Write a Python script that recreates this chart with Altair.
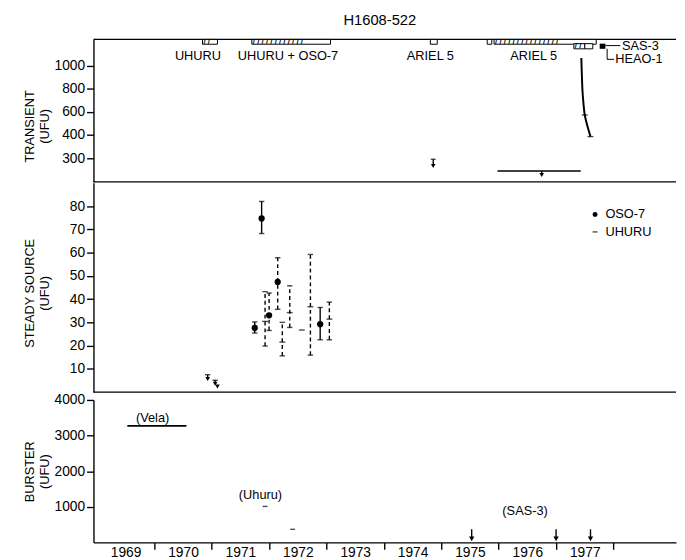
import altair as alt
import pandas as pd

# ---------------- data ----------------
# Transient panel: instrument coverage boxes along the top edge
box_x0 = [1970.84, 1971.70, 1974.81, 1975.80, 1975.92, 1977.31, 1977.50]
box_x1 = [1971.10, 1973.07, 1974.93, 1975.88, 1977.70, 1977.50, 1977.64]
box_top = [1232, 1232, 1232, 1232, 1232, 1195, 1195]
box_bot = [1190, 1190, 1190, 1190, 1190, 1150, 1150]
box_hatch = ["/  /", "/  " * 12, "", "", "/  " * 15, "/  /", ""]
blk_x0, blk_x1, blk_top, blk_bot = [1977.76], [1977.86], [1195], [1150]

tr_lab_x = [1970.76, 1972.33, 1974.81, 1976.61]
tr_lab_y = [1087, 1087, 1087, 1087]
tr_lab_t = ["UHURU", "UHURU + OSO-7", "ARIEL 5", "ARIEL 5"]
side_lab_x = [1978.15, 1978.03]
side_lab_y = [1178, 1058]
side_lab_t = ["SAS-3", "HEAO-1"]
lead_x0 = [1977.86, 1977.89, 1977.89]
lead_x1 = [1978.12, 1977.89, 1978.01]
lead_y0 = [1178, 1150, 1058]
lead_y1 = [1178, 1058, 1058]

# 1977 transient outburst decay curve
curve_x = [1977.44, 1977.45, 1977.46, 1977.48, 1977.50, 1977.54, 1977.60]
curve_y = [1070, 915, 786, 658, 572, 486, 392]
curve_tick_x = [1977.50, 1977.60]
curve_tick_y = [572, 392]

# transient upper limits
tlim_x = [1974.86, 1976.75]
tlim_top = [296, 246]
tlim_tip = [267, 229]
tbar_x0, tbar_x1, tbar_y = [1975.98], [1977.43], [246]

# Steady source: OSO-7
oso_x = [1971.75, 1971.87, 1972.00, 1972.15, 1972.89]
oso_y = [27.6, 74.7, 33.0, 47.4, 29.2]
oso_lo = [25.4, 68.2, 26.5, 35.6, 22.5]
oso_hi = [30.2, 82.0, 42.6, 57.8, 36.4]
oso_dash = [False, False, True, True, False]
# Steady source: UHURU
uh_x = [1971.93, 1972.23, 1972.36, 1972.57, 1972.72, 1973.05]
uh_y = [30.4, 21.5, 34.2, 26.7, 36.7, 31.4]
uh_lo = [19.8, 15.6, 27.8, None, 15.9, 22.5]
uh_hi = [43.2, 30.0, 45.7, None, 59.2, 38.7]
# small early UHURU points
sm_x = [1970.93, 1971.06, 1971.10]
sm_y = [5.6, 3.6, 2.4]
sm_hi = [7.5, 5.1, None]
# legend
leg_sym_x = [1977.68, 1977.68]
leg_txt_x = [1977.86, 1977.86]
leg_y = [76.4, 68.9]
leg_t = ["OSO-7", "UHURU"]

# Burster
vela_x0, vela_x1, vela_y = [1969.53], [1970.56], [3270]
bd_x = [1971.93, 1972.41]
bd_y = [1010, 367]
barr_x = [1975.53, 1977.00, 1977.60]
barr_top = [367, 367, 367]
barr_tip = [100, 100, 100]
bl_x = [1969.97, 1971.85, 1976.46]
bl_y = [3495, 1333, 874]
bl_t = ["(Vela)", "(Uhuru)", "(SAS-3)"]

# year label positions (centre of each year); ticks sit at year boundaries
year_mid = [1969.5, 1970.5, 1971.5, 1972.5, 1973.5, 1974.5, 1975.5, 1976.5, 1977.5]

# ---------------- styling ----------------
FONT = "Liberation Sans"
XDOM = [1968.94, 1979.09]
W, H1, H2, H3 = 593, 145, 213, 145
LW = 1.4
DASH = "M-1,0L1,0"
HALF_YEAR_PX = 0.5 * W / (XDOM[1] - XDOM[0])

xscale = alt.Scale(domain=XDOM, nice=False, zero=False)


def yaxis(title, values, title_y=None):
    kw = dict(title=title, values=values, tickSize=7, labelFontSize=14, labelPadding=2,
              titleFontSize=13, titleFontWeight="normal", titlePadding=6,
              minExtent=37, maxExtent=37, domainWidth=LW, tickWidth=LW,
              labelOverlap=False, labelFlush=False, grid=False, format="d")
    if title_y is not None:
        kw["titleY"] = title_y
    return alt.Axis(**kw)


xaxis_bottom = alt.Axis(values=year_mid, labelExpr="format(floor(datum.value), 'd')",
                        tickOffset=HALF_YEAR_PX, labelOffset=-HALF_YEAR_PX,
                        tickSize=7, labelPadding=-4, labelFontSize=14, domainWidth=LW,
                        tickWidth=LW, title=None, labelFlush=False, labelOverlap=False,
                        grid=False)


def hline(ypix):
    return alt.Chart(pd.DataFrame({"a": [0]})).mark_rule(color="black", strokeWidth=LW).encode(
        x=alt.value(0), x2=alt.value(W), y=alt.value(ypix))


# ---------------- transient panel ----------------
ys1 = alt.Scale(domain=[200, 400, 1232], range=[H1, 97, 0], zero=False, nice=False)
ya1 = yaxis(["TRANSIENT", "(UFU)"], [300, 400, 600, 800, 1000], 88)


def X1(f):
    return alt.X(f"{f}:Q", scale=xscale, axis=None)


def Y1(f):
    return alt.Y(f"{f}:Q", scale=ys1, axis=ya1)


boxes = pd.DataFrame({"x0": box_x0, "x1": box_x1, "top": box_top, "bot": box_bot, "h": box_hatch})
boxes["mid"] = (boxes["top"] + boxes["bot"]) / 2
blk = pd.DataFrame({"x0": blk_x0, "x1": blk_x1, "top": blk_top, "bot": blk_bot})
trl = pd.DataFrame({"x": tr_lab_x, "y": tr_lab_y, "t": tr_lab_t})
sdl = pd.DataFrame({"x": side_lab_x, "y": side_lab_y, "t": side_lab_t})
lead = pd.DataFrame({"x0": lead_x0, "x1": lead_x1, "y0": lead_y0, "y1": lead_y1})
curve = pd.DataFrame({"x": curve_x, "y": curve_y, "o": list(range(len(curve_x)))})
ctick = pd.DataFrame({"x": curve_tick_x, "y": curve_tick_y})
tlim = pd.DataFrame({"x": tlim_x, "top": tlim_top, "tip": tlim_tip})
tbar = pd.DataFrame({"x0": tbar_x0, "x1": tbar_x1, "y": tbar_y})

top = alt.layer(
    hline(0), hline(H1),
    alt.Chart(boxes).mark_rect(fill="white", stroke="black", strokeWidth=1).encode(
        x=X1("x0"), x2="x1:Q", y=Y1("top"), y2="bot:Q"),
    alt.Chart(boxes).mark_text(align="left", baseline="middle", fontSize=8, fontWeight="bold",
                               dx=1, clip=True, color="black").encode(
        x=X1("x0"), y=Y1("mid"), text="h:N"),
    alt.Chart(blk).mark_rect(fill="black").encode(x=X1("x0"), x2="x1:Q", y=Y1("top"), y2="bot:Q"),
    alt.Chart(trl).mark_text(fontSize=13, baseline="middle").encode(x=X1("x"), y=Y1("y"), text="t:N"),
    alt.Chart(sdl).mark_text(fontSize=13, align="left", baseline="middle").encode(
        x=X1("x"), y=Y1("y"), text="t:N"),
    alt.Chart(lead).mark_rule(color="black", strokeWidth=1).encode(
        x=X1("x0"), x2="x1:Q", y=Y1("y0"), y2="y1:Q"),
    alt.Chart(curve).mark_line(color="black", strokeWidth=2, interpolate="cardinal").encode(
        x=X1("x"), y=Y1("y"), order="o:Q"),
    alt.Chart(ctick).mark_point(shape=DASH, size=36, strokeWidth=LW, color="black").encode(
        x=X1("x"), y=Y1("y")),
    alt.Chart(tlim).mark_rule(color="black", strokeWidth=LW).encode(x=X1("x"), y=Y1("top"), y2="tip:Q"),
    alt.Chart(tlim).mark_point(shape="triangle-down", filled=True, size=22, color="black", opacity=1).encode(
        x=X1("x"), y=Y1("tip")),
    alt.Chart(tlim.iloc[:1]).mark_point(shape=DASH, size=25, strokeWidth=LW, color="black").encode(
        x=X1("x"), y=Y1("top")),
    alt.Chart(tbar).mark_rule(color="black", strokeWidth=LW).encode(x=X1("x0"), x2="x1:Q", y=Y1("y")),
).properties(width=W, height=H1,
             title=alt.TitleParams("H1608-522", fontSize=15, fontWeight="normal", font=FONT,
                                   offset=11, frame="group", anchor="middle", dx=-5))

# ---------------- steady panel ----------------
ys2 = alt.Scale(domain=[0, 90], zero=False, nice=False)
ya2 = yaxis(["STEADY SOURCE", "(UFU)"], [10, 20, 30, 40, 50, 60, 70, 80], 112)


def Y2(f):
    return alt.Y(f"{f}:Q", scale=ys2, axis=ya2)


oso = pd.DataFrame({"x": oso_x, "y": oso_y, "lo": oso_lo, "hi": oso_hi, "d": oso_dash})
uh = pd.DataFrame({"x": uh_x, "y": uh_y, "lo": uh_lo, "hi": uh_hi}).dropna()
uh_all = pd.DataFrame({"x": uh_x, "y": uh_y})
sm = pd.DataFrame({"x": sm_x, "y": sm_y, "hi": sm_hi})
sm_e = sm.dropna()
errs = pd.concat([oso[["x", "lo", "hi", "d"]],
                  uh.assign(d=True)[["x", "lo", "hi", "d"]]], ignore_index=True)
caps = pd.concat([errs[["x", "lo"]].rename(columns={"lo": "v"}),
                  errs[["x", "hi"]].rename(columns={"hi": "v"}),
                  sm_e[["x", "hi"]].rename(columns={"hi": "v"})], ignore_index=True)
leg = pd.DataFrame({"sx": leg_sym_x, "tx": leg_txt_x, "y": leg_y, "t": leg_t})

mid = alt.layer(
    hline(H2),
    alt.Chart(errs[~errs["d"]]).mark_rule(color="black", strokeWidth=LW).encode(
        x=X1("x"), y=Y2("lo"), y2="hi:Q"),
    alt.Chart(errs[errs["d"]]).mark_rule(color="black", strokeWidth=LW, strokeDash=[4, 3]).encode(
        x=X1("x"), y=Y2("lo"), y2="hi:Q"),
    alt.Chart(sm_e).mark_rule(color="black", strokeWidth=LW).encode(x=X1("x"), y=Y2("y"), y2="hi:Q"),
    alt.Chart(caps).mark_point(shape=DASH, size=30, strokeWidth=LW, color="black").encode(
        x=X1("x"), y=Y2("v")),
    alt.Chart(oso).mark_point(shape="circle", filled=True, size=40, color="black", opacity=1).encode(
        x=X1("x"), y=Y2("y")),
    alt.Chart(uh_all).mark_point(shape=DASH, size=36, strokeWidth=LW, color="black").encode(
        x=X1("x"), y=Y2("y")),
    alt.Chart(sm).mark_point(shape="triangle-down", filled=True, size=22, color="black", opacity=1).encode(
        x=X1("x"), y=Y2("y")),
    alt.Chart(leg.iloc[:1]).mark_point(shape="circle", filled=True, size=25, color="black", opacity=1).encode(
        x=X1("sx"), y=Y2("y")),
    alt.Chart(leg.iloc[1:]).mark_point(shape=DASH, size=25, strokeWidth=LW, color="black").encode(
        x=X1("sx"), y=Y2("y")),
    alt.Chart(leg).mark_text(fontSize=13, align="left", baseline="middle").encode(
        x=X1("tx"), y=Y2("y"), text="t:N"),
).properties(width=W, height=H2)

# ---------------- burster panel ----------------
ys3 = alt.Scale(domain=[0, 4000], zero=False, nice=False)
ya3 = yaxis(["BURSTER", "(UFU)"], [1000, 2000, 3000, 4000])


def X3(f):
    return alt.X(f"{f}:Q", scale=xscale, axis=xaxis_bottom)


def Y3(f):
    return alt.Y(f"{f}:Q", scale=ys3, axis=ya3)


vela = pd.DataFrame({"x0": vela_x0, "x1": vela_x1, "y": vela_y})
bd = pd.DataFrame({"x": bd_x, "y": bd_y})
barr = pd.DataFrame({"x": barr_x, "top": barr_top, "tip": barr_tip})
bl = pd.DataFrame({"x": bl_x, "y": bl_y, "t": bl_t})

bot = alt.layer(
    alt.Chart(vela).mark_rule(color="black", strokeWidth=LW + 0.4).encode(x=X3("x0"), x2="x1:Q", y=Y3("y")),
    alt.Chart(bd).mark_point(shape=DASH, size=25, strokeWidth=LW, color="black").encode(x=X3("x"), y=Y3("y")),
    alt.Chart(barr).mark_rule(color="black", strokeWidth=LW).encode(x=X3("x"), y=Y3("top"), y2="tip:Q"),
    alt.Chart(barr).mark_point(shape="triangle-down", filled=True, size=30, color="black", opacity=1).encode(
        x=X3("x"), y=Y3("tip")),
    alt.Chart(bl).mark_text(fontSize=13, baseline="middle").encode(x=X3("x"), y=Y3("y"), text="t:N"),
).properties(width=W, height=H3)

chart = alt.vconcat(top, mid, bot, spacing=0).properties(
    padding={"left": 16, "top": 0, "right": 0, "bottom": 0}
).configure_view(stroke=None).configure_axis(
    domainColor="black", tickColor="black", labelColor="black", titleColor="black",
    labelFont=FONT, titleFont=FONT
).configure_text(font=FONT, color="black")

chart.save("out.html", embed_options={"renderer": "svg", "actions": False})
